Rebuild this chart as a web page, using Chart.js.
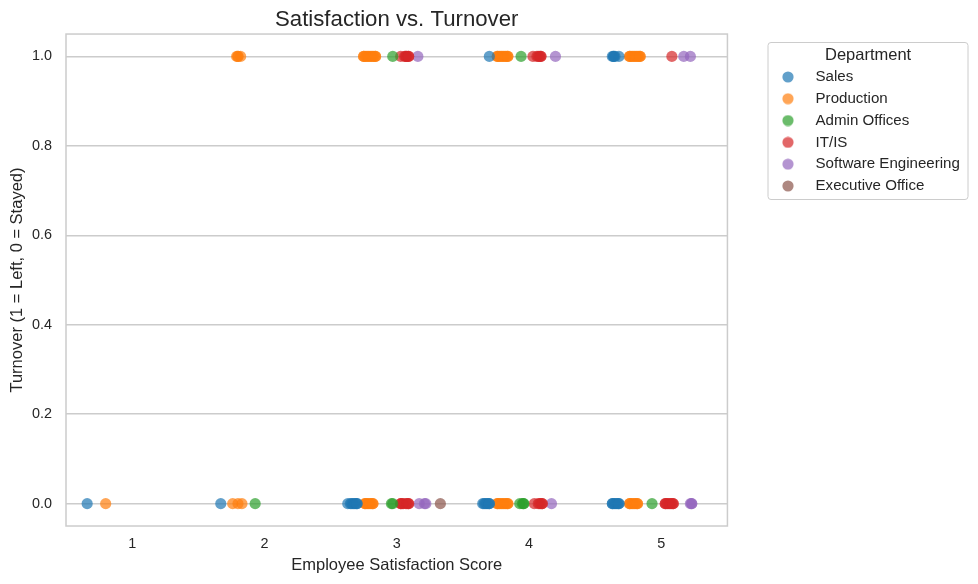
<!DOCTYPE html>
<html>
<head>
<meta charset="utf-8">
<style>
  html, body { margin: 0; padding: 0; background: #fff; }
  #wrap { width: 978px; height: 584px; }
</style>
<script src="https://cdn.jsdelivr.net/npm/chart.js@4"></script>
</head>
<body>
<div id="wrap"><canvas id="chart" width="978" height="584"></canvas></div>
<script>
const departments = ['Sales', 'Production', 'Admin Offices', 'IT/IS', 'Software Engineering', 'Executive Office'];
const colors = ['31,119,180', '255,127,14', '44,160,44', '214,39,40', '148,103,189', '140,86,75'];
const xTicks = [1, 2, 3, 4, 5];
const yTicks = [0, 0.2, 0.4, 0.6, 0.8, 1];

// satisfaction scores of people who left (turnover = 1)
const salesLeft = [3.70, 4.63, 4.64, 4.64, 4.65, 4.68];
const productionLeft = [1.79, 1.80, 1.80, 1.82, 2.75, 2.75, 2.76, 2.77, 2.78, 2.79, 2.80, 2.81, 2.82, 2.83, 2.84, 2.84, 3.76, 3.76, 3.77, 3.78, 3.79, 3.80, 3.81, 3.82, 3.83, 3.84, 3.84, 4.76, 4.76, 4.77, 4.78, 4.79, 4.80, 4.81, 4.82, 4.83, 4.84, 4.84];
const adminLeft = [2.97, 3.94];
const itLeft = [3.03, 3.06, 3.07, 3.07, 3.08, 3.09, 3.09, 4.03, 4.06, 4.07, 4.08, 4.09, 4.09, 5.08];
const softwareLeft = [3.16, 4.20, 5.17, 5.22];
const executiveLeft = [];

// satisfaction scores of people who stayed (turnover = 0)
const salesStayed = [0.66, 1.67, 2.63, 2.65, 2.66, 2.67, 2.68, 2.69, 2.70, 2.70, 3.65, 3.66, 3.67, 3.68, 3.69, 3.70, 3.70, 4.63, 4.63, 4.64, 4.65, 4.66, 4.67, 4.68, 4.68];
const productionStayed = [0.80, 1.76, 1.80, 1.83, 2.76, 2.76, 2.77, 2.78, 2.79, 2.80, 2.81, 2.82, 2.82, 3.76, 3.76, 3.77, 3.78, 3.79, 3.80, 3.81, 3.82, 3.83, 3.84, 3.84, 4.76, 4.76, 4.77, 4.78, 4.79, 4.80, 4.81, 4.82, 4.82];
const adminStayed = [1.93, 2.96, 2.97, 3.93, 3.95, 3.96, 3.96, 4.93];
const itStayed = [3.03, 3.03, 3.04, 3.05, 3.07, 3.08, 3.09, 3.09, 4.04, 4.07, 4.08, 4.09, 4.10, 4.10, 5.03, 5.03, 5.04, 5.05, 5.06, 5.07, 5.08, 5.09, 5.09];
const softwareStayed = [3.17, 3.21, 3.22, 4.17, 5.22, 5.23, 5.23];
const executiveStayed = [3.33];

const leftByDept = [salesLeft, productionLeft, adminLeft, itLeft, softwareLeft, executiveLeft];
const stayedByDept = [salesStayed, productionStayed, adminStayed, itStayed, softwareStayed, executiveStayed];

const datasets = departments.map((name, i) => ({
  label: name,
  data: stayedByDept[i].map(v => ({ x: v, y: 0 })).concat(leftByDept[i].map(v => ({ x: v, y: 1 }))),
  backgroundColor: 'rgba(' + colors[i] + ',0.7)',
  borderWidth: 0,
  pointRadius: 5.6,
  pointHoverRadius: 5.6
}));

const textColor = '#262626';
const fontFamily = '"Liberation Sans", Arial, sans-serif';

// round legend marker, an image so the wide legend box does not stretch it
function legendMarker(rgb) {
  const c = document.createElement('canvas');
  c.width = 12;
  c.height = 12;
  const ctx = c.getContext('2d');
  ctx.fillStyle = 'rgba(' + rgb + ',0.7)';
  ctx.arc(6, 6, 5.6, 0, Math.PI * 2);
  ctx.fill();
  return c;
}

const framePlugin = {
  id: 'frames',
  afterLayout(chart) {
    // title is centred over the plot, legend floats beside it
    const a = chart.chartArea;
    chart.titleBlock.left = a.left;
    chart.titleBlock.right = a.right;
    const l = chart.legend;
    l.left = 761.3;
    l.width += 5;
    l.right = l.left + l.width;
    l.top = 39;
    l.bottom = 205;
  },
  beforeDatasetsDraw(chart) {
    const a = chart.chartArea;
    const ctx = chart.ctx;
    ctx.save();
    ctx.strokeStyle = '#cccccc';
    ctx.lineWidth = 1.5;
    ctx.strokeRect(a.left, a.top, a.right - a.left, a.bottom - a.top);
    ctx.restore();
  },
  afterDraw(chart) {
    const ctx = chart.ctx;
    ctx.save();
    ctx.strokeStyle = '#cccccc';
    ctx.lineWidth = 1;
    ctx.beginPath();
    ctx.roundRect(768, 42.5, 200, 157, 3);
    ctx.stroke();
    ctx.restore();
  }
};

new Chart(document.getElementById('chart'), {
  type: 'scatter',
  data: { datasets },
  plugins: [framePlugin],
  options: {
    responsive: false,
    animation: false,
    events: [],
    layout: { padding: { top: 0, right: 42, bottom: 0, left: 0 } },
    scales: {
      x: {
        min: 0.5,
        max: 5.5,
        afterBuildTicks(scale) { scale.ticks = xTicks.map(v => ({ value: v })); },
        afterFit(scale) { scale.height = 58; },
        grid: { display: false },
        border: { display: false },
        ticks: {
          color: textColor,
          padding: 1,
          maxRotation: 0,
          font: { family: fontFamily, size: 14.4 },
          callback: v => String(v)
        },
        title: {
          display: true,
          text: 'Employee Satisfaction Score',
          color: textColor,
          padding: { top: 0, bottom: 9 },
          font: { family: fontFamily, size: 16.5 }
        }
      },
      y: {
        min: -0.05,
        max: 1.05,
        afterBuildTicks(scale) { scale.ticks = yTicks.map(v => ({ value: v })); },
        afterFit(scale) { scale.width = 66; },
        grid: { color: '#cccccc', lineWidth: 1.4, drawTicks: false },
        border: { display: false },
        ticks: {
          color: textColor,
          padding: 14,
          font: { family: fontFamily, size: 14.4 },
          callback: v => v.toFixed(1)
        },
        title: {
          display: true,
          text: 'Turnover (1 = Left, 0 = Stayed)',
          color: textColor,
          padding: { top: 8, bottom: 0 },
          font: { family: fontFamily, size: 16.5 }
        }
      }
    },
    plugins: {
      tooltip: { enabled: false },
      title: {
        display: true,
        text: 'Satisfaction vs. Turnover',
        color: textColor,
        padding: { top: 7, bottom: 0.4 },
        font: { family: fontFamily, size: 22.2, weight: 'normal' }
      },
      legend: {
        position: 'right',
        align: 'start',
        title: {
          display: true,
          text: 'Department',
          color: textColor,
          padding: { top: 8, bottom: -4.1 },
          font: { family: fontFamily, size: 16.5 }
        },
        labels: {
          usePointStyle: true,
          pointStyleWidth: 40,
          boxHeight: 9,
          padding: 6.7,
          color: textColor,
          font: { family: fontFamily, size: 15.1 },
          generateLabels: () => departments.map((name, i) => ({
            text: name,
            fontColor: textColor,
            pointStyle: legendMarker(colors[i]),
            lineWidth: 0,
            datasetIndex: i
          }))
        }
      }
    }
  }
});
</script>
</body>
</html>
